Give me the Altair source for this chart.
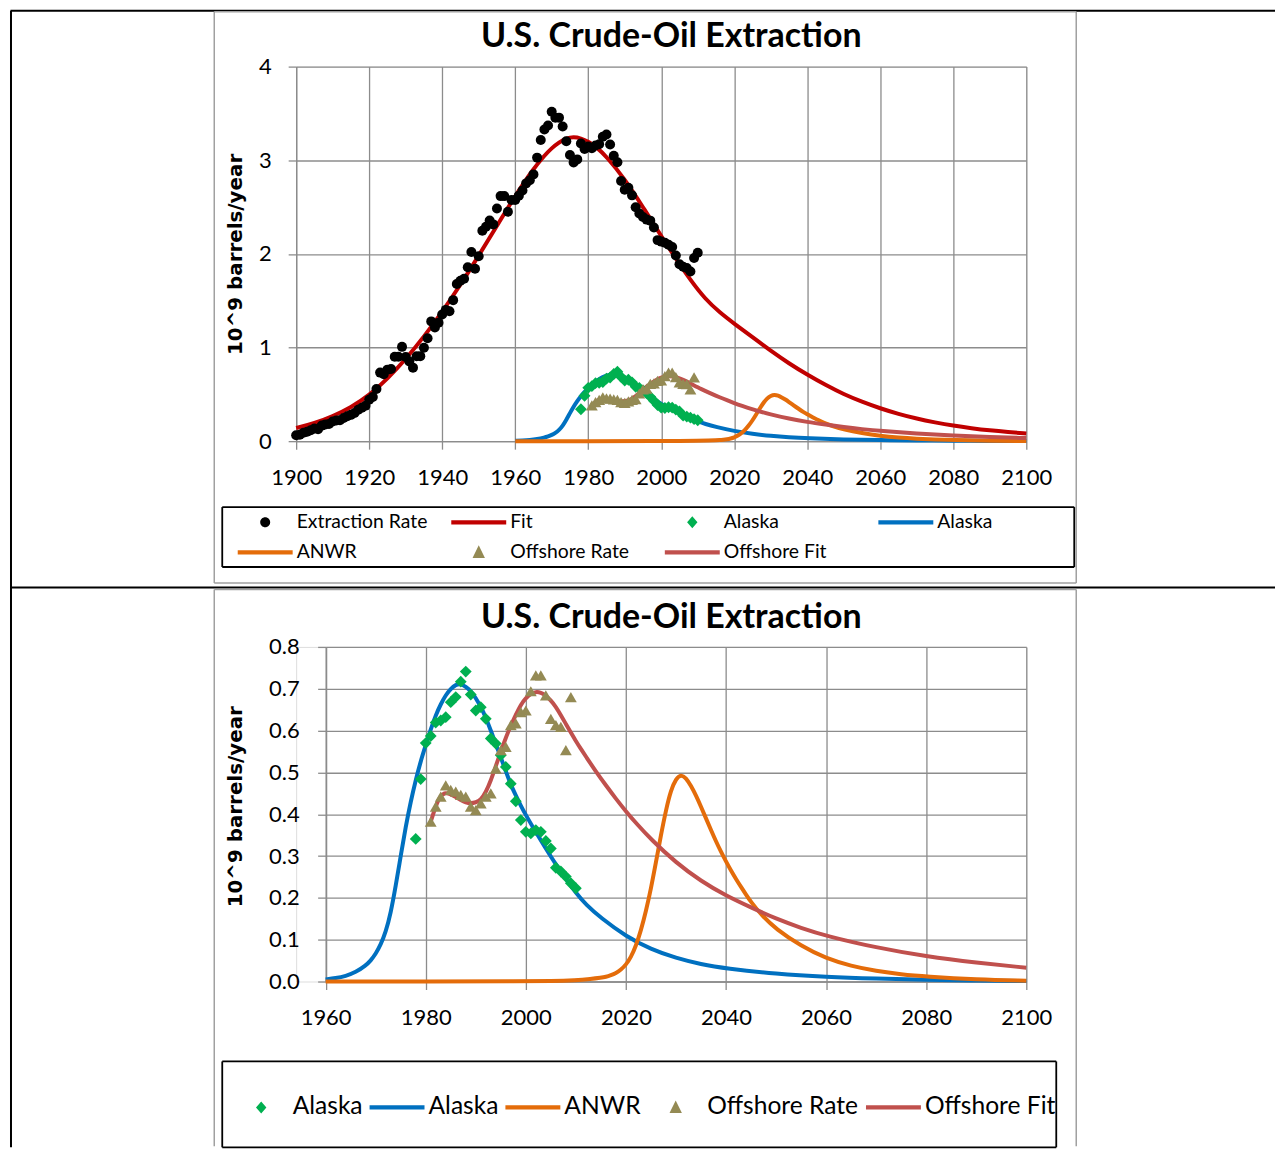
import altair as alt
import pandas as pd

# ---------------- data ----------------
rate_years = list(range(1900, 2011))
rate_vals = [0.064, 0.069, 0.089, 0.101, 0.117, 0.135, 0.127, 0.166, 0.179, 0.183,
             0.210, 0.220, 0.223, 0.248, 0.266, 0.281, 0.301, 0.335, 0.356, 0.378,
             0.443, 0.472, 0.558, 0.732, 0.714, 0.764, 0.771, 0.901, 0.902, 1.007,
             0.898, 0.851, 0.785, 0.906, 0.908, 0.997, 1.100, 1.279, 1.214, 1.265,
             1.353, 1.402, 1.387, 1.506, 1.678, 1.714, 1.734, 1.857, 2.020, 1.842,
             1.974, 2.248, 2.290, 2.357, 2.315, 2.484, 2.617, 2.617, 2.449, 2.575,
             2.575, 2.622, 2.676, 2.753, 2.787, 2.849, 3.028, 3.216, 3.329, 3.372,
             3.518, 3.454, 3.455, 3.361, 3.203, 3.057, 2.976, 3.009, 3.178, 3.121,
             3.146, 3.129, 3.157, 3.171, 3.250, 3.275, 3.168, 3.047, 2.979, 2.779,
             2.685, 2.707, 2.625, 2.499, 2.432, 2.394, 2.366, 2.355, 2.282, 2.147,
             2.131, 2.118, 2.097, 2.074, 1.983, 1.890, 1.862, 1.849, 1.812, 1.957,
             2.012]

fit_years = [1900, 1905, 1910, 1915, 1920, 1925, 1930, 1935, 1940, 1945, 1950, 1955,
             1960, 1965, 1968, 1970, 1972, 1974, 1976, 1978, 1980, 1982, 1985, 1990,
             1995, 2000, 2004, 2008, 2012, 2016, 2020, 2025, 2030, 2035, 2040, 2045,
             2050, 2055, 2060, 2065, 2070, 2075, 2080, 2085, 2090, 2095, 2100]
fit_vals = [0.14, 0.19, 0.265, 0.36, 0.49, 0.665, 0.875, 1.115, 1.38, 1.67, 1.98, 2.30,
            2.62, 2.91, 3.05, 3.13, 3.19, 3.235, 3.25, 3.235, 3.20, 3.15, 3.04, 2.80,
            2.50, 2.19, 1.95, 1.72, 1.52, 1.375, 1.255, 1.11, 0.965, 0.83, 0.71, 0.60,
            0.50, 0.42, 0.35, 0.29, 0.24, 0.20, 0.165, 0.138, 0.115, 0.097, 0.082]

alaska_years = list(range(1978, 2011))
alaska_vals = [0.341, 0.484, 0.570, 0.587, 0.619, 0.624, 0.632, 0.668, 0.680, 0.717,
               0.741, 0.686, 0.648, 0.656, 0.628, 0.581, 0.569, 0.541, 0.513, 0.473,
               0.431, 0.386, 0.358, 0.354, 0.362, 0.358, 0.336, 0.318, 0.272, 0.263,
               0.251, 0.235, 0.223]

alaska_fit_years = [1960, 1962, 1964, 1966, 1968, 1969, 1970, 1971, 1972, 1973, 1974,
                    1975, 1976, 1977, 1978, 1979, 1980, 1981, 1982, 1983, 1984, 1985,
                    1986, 1987, 1988, 1989, 1990, 1991, 1992, 1993, 1994, 1995, 1996,
                    1997, 1998, 1999, 2000, 2002, 2004, 2006, 2008, 2010, 2012, 2015,
                    2020, 2025, 2030, 2035, 2040, 2050, 2060, 2070, 2080, 2090, 2100]
alaska_fit_vals = [0.005, 0.008, 0.013, 0.022, 0.038, 0.050, 0.066, 0.088, 0.118, 0.163,
                   0.228, 0.300, 0.370, 0.430, 0.482, 0.527, 0.565, 0.603, 0.637, 0.663,
                   0.685, 0.700, 0.710, 0.712, 0.705, 0.695, 0.678, 0.657, 0.632, 0.600,
                   0.568, 0.536, 0.503, 0.470, 0.445, 0.420, 0.398, 0.357, 0.318, 0.280,
                   0.245, 0.212, 0.184, 0.152, 0.108, 0.077, 0.056, 0.041, 0.031, 0.018,
                   0.011, 0.007, 0.004, 0.002, 0.001]

anwr_years = [1960, 1980, 2000, 2005, 2010, 2013, 2015, 2016, 2017, 2018, 2019, 2020,
              2021, 2022, 2023, 2024, 2025, 2026, 2027, 2028, 2029, 2030, 2031, 2032,
              2033, 2034, 2035, 2036, 2037, 2038, 2039, 2040, 2041, 2042, 2043, 2044,
              2045, 2047, 2050, 2055, 2060, 2065, 2070, 2075, 2080, 2090, 2100]
anwr_vals = [0.0, 0.0, 0.0005, 0.001, 0.003, 0.006, 0.009, 0.011, 0.015, 0.020, 0.028,
             0.040, 0.058, 0.085, 0.122, 0.168, 0.222, 0.285, 0.350, 0.410, 0.458, 0.485,
             0.495, 0.487, 0.468, 0.445, 0.418, 0.390, 0.362, 0.335, 0.310, 0.287, 0.265,
             0.245, 0.226, 0.208, 0.190, 0.160, 0.125, 0.085, 0.055, 0.037, 0.025, 0.017,
             0.012, 0.005, 0.002]

off_years = list(range(1981, 2010))
off_vals = [0.382, 0.418, 0.442, 0.469, 0.458, 0.454, 0.446, 0.442, 0.418, 0.410,
            0.426, 0.442, 0.450, 0.509, 0.553, 0.561, 0.613, 0.617, 0.644, 0.648,
            0.694, 0.732, 0.732, 0.684, 0.628, 0.613, 0.609, 0.553, 0.680]

off_fit_years = [1981, 1982, 1983, 1984, 1985, 1986, 1987, 1988, 1989, 1990, 1991, 1992,
                 1993, 1994, 1995, 1996, 1997, 1998, 1999, 2000, 2001, 2002, 2003, 2004,
                 2005, 2006, 2007, 2008, 2009, 2010, 2011, 2012, 2014, 2016, 2018, 2020,
                 2022, 2025, 2030, 2035, 2040, 2045, 2050, 2055, 2060, 2070, 2080, 2090,
                 2100]
off_fit_vals = [0.382, 0.420, 0.446, 0.452, 0.448, 0.441, 0.434, 0.428, 0.426, 0.428,
                0.434, 0.452, 0.480, 0.515, 0.550, 0.583, 0.612, 0.638, 0.662, 0.678,
                0.688, 0.693, 0.691, 0.684, 0.672, 0.657, 0.637, 0.616, 0.595, 0.575,
                0.556, 0.538, 0.502, 0.469, 0.437, 0.407, 0.379, 0.340, 0.284, 0.240,
                0.205, 0.177, 0.150, 0.128, 0.109, 0.081, 0.060, 0.045, 0.033]

top_keys = ["Extraction Rate", "Fit", "Alaska", "Alaska fit", "ANWR", "Offshore Rate", "Offshore Fit"]
bottom_keys = ["Alaska", "Alaska fit", "ANWR", "Offshore Rate", "Offshore Fit"]
x_ticks_top = [1900, 1920, 1940, 1960, 1980, 2000, 2020, 2040, 2060, 2080, 2100]
y_ticks_top = [0, 1, 2, 3, 4]
x_ticks_bottom = [1960, 1980, 2000, 2020, 2040, 2060, 2080, 2100]
y_ticks_bottom = [0.0, 0.1, 0.2, 0.3, 0.4, 0.5, 0.6, 0.7, 0.8]

# ---------------- styles ----------------
COL = {"Extraction Rate": "#000000", "Fit": "#C00000", "Alaska": "#00B050",
       "Alaska fit": "#0070C0", "ANWR": "#E46C0A", "Offshore Rate": "#948A54",
       "Offshore Fit": "#C0504D"}
# legend symbol paths (unit = 10 px with symbolSize 400)
LINE_P = "M-2.75,-0.22L2.75,-0.22L2.75,0.22L-2.75,0.22Z"
CIRC_P = "M-2.75,0ZM0.5,0A0.5,0.5,0,1,1,-0.5,0A0.5,0.5,0,1,1,0.5,0Z"
DIAM_P = "M-2.75,0ZM0,-0.6L0.52,0L0,0.6L-0.52,0Z"
TRI_P = "M-2.75,0ZM0,-0.7L0.62,0.56L-0.62,0.56Z"
SHP = {"Extraction Rate": CIRC_P, "Fit": LINE_P, "Alaska": DIAM_P, "Alaska fit": LINE_P,
       "ANWR": LINE_P, "Offshore Rate": TRI_P, "Offshore Fit": LINE_P}
GRID = "#8C8C8C"
FONT = "Lato"
W = 731


def df(years, vals):
    return pd.DataFrame({"year": years, "value": vals})


def line(years, vals, color, x, y):
    return alt.Chart(df(years, vals)).mark_line(
        color=color, strokeWidth=4, interpolate="basis").encode(x=x, y=y)


def pts(years, vals, color, shape, size, x, y):
    return alt.Chart(df(years, vals)).mark_point(
        filled=True, color=color, shape=shape, size=size, opacity=1, strokeWidth=0).encode(x=x, y=y)


def legend_layer(keys, legend, x, y):
    d = pd.DataFrame({"series": keys, "year": [None] * len(keys), "value": [None] * len(keys)})
    cs = alt.Scale(domain=keys, range=[COL[k] for k in keys])
    ss = alt.Scale(domain=keys, range=[SHP[k] for k in keys])
    return alt.Chart(d).mark_point(filled=True, opacity=1, strokeWidth=0).encode(
        x=x, y=y,
        color=alt.Color("series:N", scale=cs, legend=legend),
        shape=alt.Shape("series:N", scale=ss, legend=legend))


def deco(segs):
    d = pd.DataFrame(segs, columns=["x", "x2", "y", "y2", "c", "w"])
    return alt.Chart(d).mark_rule().encode(
        x=alt.X("x:Q", scale=None), x2="x2:Q",
        y=alt.Y("y:Q", scale=None), y2="y2:Q",
        color=alt.Color("c:N", scale=None),
        strokeWidth=alt.StrokeWidth("w:Q", scale=None))


def axis_common(**kw):
    base = dict(grid=True, gridColor=GRID, gridWidth=1.3, domainColor=GRID, domainWidth=1.3,
                tickColor=GRID, tickWidth=1.3, tickSize=8, labelFont=FONT, labelFontSize=22,
                labelColor="black", labelFlush=False, labelOverlap=False)
    base.update(kw)
    return alt.Axis(**base)


def legend(keys_n, grid_align, font_size, col_pad, row_pad, lx, ly):
    size_px = max(20.0, font_size)
    sym_off = 27.5 - size_px / 2
    return alt.Legend(orient="none", direction="horizontal", legendX=lx, legendY=ly,
                      title=None, columns=keys_n, gridAlign=grid_align, columnPadding=col_pad,
                      rowPadding=row_pad, symbolSize=400, symbolStrokeWidth=0,
                      symbolOffset=sym_off, labelOffset=59 - size_px - sym_off,
                      labelFont=FONT, labelFontSize=font_size, labelColor="black",
                      labelLimit=400, padding=0,
                      labelExpr="datum.label == 'Alaska fit' ? 'Alaska' : datum.label")


YTITLE = dict(title="10^9 barrels/year", titleFont="DejaVu Sans", titleFontSize=19.9,
              titleFontWeight="bold", titleColor="black", titleAngle=270,
              titleAlign="center", titleBaseline="middle")
TITLE_KW = dict(font=FONT, fontSize=34, fontWeight="bold", color="black", anchor="middle",
                frame="group", dx=10, baseline="alphabetic")

# ---------------- top chart ----------------
xt = alt.X("year:Q", scale=alt.Scale(domain=[1900, 2100], nice=False),
           axis=axis_common(values=x_ticks_top, format="d", title=None, labelPadding=18))
yt = alt.Y("value:Q", scale=alt.Scale(domain=[0, 4], nice=False),
           axis=axis_common(values=y_ticks_top, format="d", labelPadding=17,
                            titleX=-60.7, titleY=187.5, **YTITLE))

leg_top = legend(4, "all", 19.4, 23.8, 10.3, -58.5, 446)

K, G = "#000000", "#A0A0A0"
top_deco = deco([
    [-286, 980, -56, -56, K, 2],        # table top line
    [-285.5, -285.5, -56, 1082, K, 2],  # table left line
    [-286, 980, 521.5, 521.5, K, 2],    # table middle line
    [-82, 781, -55, -55, G, 1.5],       # chart box
    [-82, 781, 517, 517, G, 1.5],
    [-82, -82, -55, 517, G, 1.5],
    [781, 781, -55, 517, G, 1.5],
    [-74, 779, 441, 441, K, 1.8],       # legend box
    [-74, 779, 501, 501, K, 1.8],
    [-74, -74, 441, 501, K, 1.8],
    [779, 779, 441, 501, K, 1.8],
])

top = alt.layer(
    top_deco,
    line(fit_years, fit_vals, COL["Fit"], xt, yt),
    line(alaska_fit_years, alaska_fit_vals, COL["Alaska fit"], xt, yt),
    line(anwr_years, anwr_vals, COL["ANWR"], xt, yt),
    line(off_fit_years, off_fit_vals, COL["Offshore Fit"], xt, yt),
    pts(rate_years, rate_vals, COL["Extraction Rate"], "circle", 100, xt, yt),
    pts(alaska_years, alaska_vals, COL["Alaska"], "diamond", 140, xt, yt),
    pts(off_years, off_vals, COL["Offshore Rate"], "triangle-up", 140, xt, yt),
    legend_layer(top_keys, leg_top, xt, yt),
).properties(
    width=W, height=375,
    title=alt.TitleParams("U.S. Crude-Oil Extraction", offset=-71.5, **TITLE_KW))

# ---------------- bottom chart ----------------
xb = alt.X("year:Q", scale=alt.Scale(domain=[1960, 2100], range=[29.5, W], nice=False),
           axis=axis_common(values=x_ticks_bottom, format="d", title=None, labelPadding=18))
yb = alt.Y("value:Q", scale=alt.Scale(domain=[0, 0.8], nice=False),
           axis=axis_common(values=y_ticks_bottom, format=".1f", labelPadding=18.5, offset=-29.5,
                            titleX=-90.2, titleY=159.5, **YTITLE))

leg_bot = legend(5, "each", 24.6, 7, 0, -62.5, 448.7)

bot_deco = deco([
    [-82, 781, -57.5, -57.5, G, 1.5],   # chart box (bottom edge off-page)
    [-82, -82, -57.5, 500, G, 1.5],
    [781, 781, -57.5, 500, G, 1.5],
    [-74, 761, 415, 415, K, 1.8],       # legend box
    [-74, 761, 501, 501, K, 1.8],
    [-74, -74, 415, 501, K, 1.8],
    [761, 761, 415, 501, K, 1.8],
])

bottom = alt.layer(
    bot_deco,
    line(alaska_fit_years, alaska_fit_vals, COL["Alaska fit"], xb, yb),
    line(anwr_years, anwr_vals, COL["ANWR"], xb, yb),
    line(off_fit_years, off_fit_vals, COL["Offshore Fit"], xb, yb),
    pts(alaska_years, alaska_vals, COL["Alaska"], "diamond", 140, xb, yb),
    pts(off_years, off_vals, COL["Offshore Rate"], "triangle-up", 140, xb, yb),
    legend_layer(bottom_keys, leg_bot, xb, yb),
).properties(
    width=W, height=335,
    title=alt.TitleParams("U.S. Crude-Oil Extraction", offset=-73.75, **TITLE_KW))

chart = alt.vconcat(top, bottom, spacing=206, bounds="flush").resolve_scale(
    color="independent", shape="independent"
).resolve_legend(
    color="independent", shape="independent"
).properties(
    padding={"left": 0.5, "top": 0, "right": 0, "bottom": 0}
).configure_view(strokeWidth=0).configure(background="white")

chart.save("out.html", embed_options={"renderer": "svg", "actions": False})
